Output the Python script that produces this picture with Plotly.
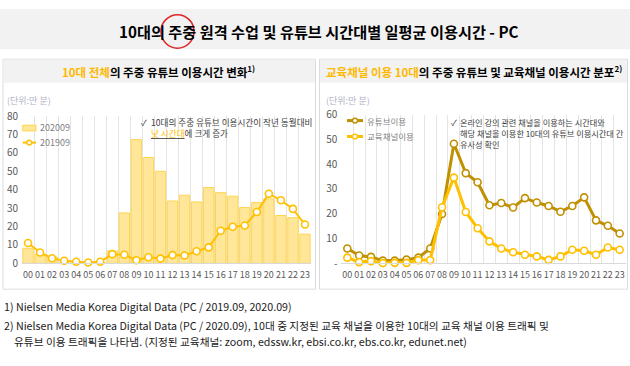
import plotly.graph_objects as go

# ---------------- data ----------------
hours = [f"{h:02d}" for h in range(24)]
teen_2020 = [8.2, 4.8, 3.5, 0.3, 0.2, 0.2, 0.3, 6.7, 27.4, 67.2, 57.5, 50.0,
             33.9, 37.0, 33.4, 41.2, 38.4, 36.5, 30.3, 33.1, 35.0, 26.0, 24.8, 15.9]
teen_2019 = [11.1, 5.9, 2.8, 1.4, 0.9, 0.5, 0.9, 5.0, 4.7, 1.7, 3.3, 2.6,
             4.5, 4.3, 6.6, 8.7, 17.7, 19.9, 20.6, 27.9, 37.8, 34.3, 29.6, 21.1]
youtube_use = [5.9, 3.1, 2.5, 1.0, 1.0, 1.4, 2.2, 5.9, 19.9, 48.3, 36.4, 32.7,
               23.4, 24.3, 22.5, 26.3, 24.5, 23.1, 20.8, 23.1, 26.6, 17.3, 15.1, 12.0]
edu_use = [2.2, 0.4, 0.8, 0.0, 0.1, 0.1, 1.2, 1.2, 22.6, 34.6, 20.7, 14.1,
           8.8, 5.9, 4.4, 3.4, 2.7, 1.3, 2.7, 5.4, 5.0, 3.4, 6.3, 5.4]
left_ticks = [0, 10, 20, 30, 40, 50, 60, 70, 80]
right_ticks = [0, 10, 20, 30, 40, 50, 60]
right_ticktext = ["-", "10", "20", "30", "40", "50", "60"]
series_names = ["202009", "201909", "유튜브이용", "교육채널이용"]

# ---------------- helpers ----------------
W, H = 630, 366
FONT = "Noto Sans CJK KR"


def X(px):
    return px / W


def Y(py):
    return 1 - py / H


YEL = "#FFC000"
GOLD = "#BF9000"
BAR_FILL = "#FFE699"
BAR_LINE = "#FFD54F"
TICK = "#595959"
GRID = "#e4e4e4"

fig = go.Figure()

fig.add_trace(go.Bar(x=hours, y=teen_2020, name=series_names[0],
                     marker=dict(color=BAR_FILL, line=dict(color=BAR_LINE, width=1)),
                     xaxis="x", yaxis="y", showlegend=False))
fig.add_trace(go.Scatter(x=hours, y=teen_2019, name=series_names[1], mode="lines+markers",
                         line=dict(color=YEL, width=2),
                         marker=dict(symbol="circle", size=7, color="white",
                                     line=dict(color=YEL, width=1.6)),
                         cliponaxis=False, xaxis="x", yaxis="y", showlegend=False))
fig.add_trace(go.Scatter(x=hours, y=youtube_use, name=series_names[2], mode="lines+markers",
                         line=dict(color=GOLD, width=3),
                         marker=dict(symbol="circle", size=7, color="white",
                                     line=dict(color=GOLD, width=1.6)),
                         cliponaxis=False, xaxis="x2", yaxis="y2", showlegend=False))
fig.add_trace(go.Scatter(x=hours, y=edu_use, name=series_names[3], mode="lines+markers",
                         line=dict(color=YEL, width=3),
                         marker=dict(symbol="circle", size=7, color="white",
                                     line=dict(color=YEL, width=1.6)),
                         cliponaxis=False, xaxis="x2", yaxis="y2", showlegend=False))

xcommon = dict(type="category", range=[-0.5, 23.5], showgrid=True, gridcolor=GRID,
               gridwidth=1, tickson="boundaries", ticks="", showline=True,
               linecolor="#d9d9d9", linewidth=1, zeroline=False,
               tickfont=dict(family=FONT, size=9, color=TICK), ticklabelstandoff=3,
               tickangle=0, fixedrange=True)
ycommon = dict(showgrid=False, zeroline=False, showline=False, ticks="",
               tickfont=dict(family=FONT, size=10, color=TICK), ticklabelstandoff=3,
               fixedrange=True)

shapes = [
    # title band
    dict(type="rect", xref="paper", yref="paper", x0=0, x1=1, y0=Y(42), y1=1,
         fillcolor="#f2f2f2", line=dict(width=0), layer="below"),
    # panels
    dict(type="rect", xref="paper", yref="paper", x0=X(3), x1=X(315.5), y0=Y(293), y1=Y(52.5),
         fillcolor="white", line=dict(color="#dcdcdc", width=1), layer="below"),
    dict(type="rect", xref="paper", yref="paper", x0=X(319.5), x1=X(627.5), y0=Y(293), y1=Y(52.5),
         fillcolor="white", line=dict(color="#dcdcdc", width=1), layer="below"),
    # panel header bands
    dict(type="rect", xref="paper", yref="paper", x0=X(3.5), x1=X(315), y0=Y(77), y1=Y(53),
         fillcolor="#f2f2f2", line=dict(width=0), layer="below"),
    dict(type="rect", xref="paper", yref="paper", x0=X(320), x1=X(627), y0=Y(77), y1=Y(53),
         fillcolor="#f2f2f2", line=dict(width=0), layer="below"),
    # red circle around 주중
    dict(type="circle", xref="paper", yref="paper", x0=X(161), x1=X(194), y0=Y(41), y1=Y(6),
         line=dict(color="#e02424", width=1.5)),
    # left legend swatches
    dict(type="rect", xref="paper", yref="paper", x0=X(22.7), x1=X(36), y0=Y(127.5), y1=Y(121.5),
         fillcolor=BAR_FILL, line=dict(color=BAR_LINE, width=1)),
    dict(type="line", xref="paper", yref="paper", x0=X(22.7), x1=X(36), y0=Y(139.7), y1=Y(139.7),
         line=dict(color=YEL, width=2)),
    dict(type="circle", xref="paper", yref="paper", x0=X(26.8), x1=X(31.8), y0=Y(142.2), y1=Y(137.2),
         fillcolor="white", line=dict(color=YEL, width=1.4)),
    # right legend swatches
    dict(type="line", xref="paper", yref="paper", x0=X(347), x1=X(363), y0=Y(116.7), y1=Y(116.7),
         line=dict(color=GOLD, width=3)),
    dict(type="circle", xref="paper", yref="paper", x0=X(352.5), x1=X(357.5), y0=Y(119.2), y1=Y(114.2),
         fillcolor="white", line=dict(color=GOLD, width=1.4)),
    dict(type="line", xref="paper", yref="paper", x0=X(347), x1=X(363), y0=Y(133.3), y1=Y(133.3),
         line=dict(color=YEL, width=3)),
    dict(type="circle", xref="paper", yref="paper", x0=X(352.5), x1=X(357.5), y0=Y(135.8), y1=Y(130.8),
         fillcolor="white", line=dict(color=YEL, width=1.4)),
]


def ann(text, x, y, size, color="#000000", xanchor="left", yanchor="middle"):
    return dict(text=text, x=X(x), y=Y(y), xref="paper", yref="paper", showarrow=False,
                xanchor=xanchor, yanchor=yanchor, align="left",
                font=dict(family=FONT, size=size, color=color))


ORANGE = "#FFB800"
TXT = "#404040"
UNIT = "#b3b3c9"
annotations = [
    ann("<b>10대의 주중 원격 수업 및 유튜브 시간대별 일평균 이용시간 - PC</b>", 318.5, 23, 15.2,
        xanchor="center"),
    ann(f"<b><span style='color:{ORANGE}'>10대 전체</span>의 주중 유튜브 이용시간 변화<sup>1)</sup></b>",
        158.5, 65.5, 11.5, xanchor="center"),
    ann(f"<b><span style='color:{ORANGE}'>교육채널 이용 10대</span>의 주중 유튜브 및 교육채널 이용시간 분포<sup>2)</sup></b>",
        474, 65.5, 11.5, xanchor="center"),
    ann("(단위:만 분)", 5, 95.7, 9, UNIT),
    ann("(단위:만 분)", 324.5, 95.7, 9, UNIT),
    # left legend text
    ann(series_names[0], 37.5, 124.3, 9, "#7f7f7f"),
    ann(series_names[1], 37.5, 139.7, 9, "#7f7f7f"),
    # right legend text
    ann(series_names[2], 364.5, 116.7, 8.5, "#7f7f7f"),
    ann(series_names[3], 364.5, 133.3, 8.5, "#7f7f7f"),
    # left note
    ann("✓", 139, 117.7, 8.5, TXT),
    ann("10대의 주중 유튜브 이용시간이 작년 동월대비", 148.5, 117.7, 8.6, TXT),
    ann(f"<u><span style='color:{YEL}'>낮 시간대</span></u>에 크게 증가", 148.5, 130, 8.6, TXT),
    # right note
    ann("✓", 449, 117.7, 8.5, TXT),
    ann("온라인 강의 관련 채널을 이용하는 시간대와", 458, 117.7, 8.2, TXT),
    ann("해당 채널을 이용한 10대의 유튜브 이용시간대 간", 458, 129.5, 8.2, TXT),
    ann("유사성 확인", 458, 141, 8.2, TXT),
    # footnotes
    ann("1) Nielsen Media Korea Digital Data (PC / 2019.09, 2020.09)", 2, 311, 10.7, "#1a1a1a"),
    ann("2) Nielsen Media Korea Digital Data (PC / 2020.09), 10대 중 지정된 교육 채널을 이용한 10대의 교육 채널 이용 트래픽 및",
        2, 331, 10.7, "#1a1a1a"),
    ann("유튜브 이용 트래픽을 나타냄. (지정된 교육채널: zoom, edssw.kr, ebsi.co.kr, ebs.co.kr, edunet.net)",
        12, 348, 10.7, "#1a1a1a"),
]

fig.update_layout(
    width=W, height=H, margin=dict(l=0, r=0, t=0, b=0),
    paper_bgcolor="white", plot_bgcolor="rgba(0,0,0,0)",
    font=dict(family=FONT, color=TICK),
    bargap=0.14, showlegend=False,
    xaxis=dict(domain=[X(22), X(311)], anchor="y", **xcommon),
    yaxis=dict(domain=[Y(266), Y(112)], anchor="x", range=[0, 80], tickvals=left_ticks,
               **ycommon),
    xaxis2=dict(domain=[X(341.4), X(625.6)], anchor="y2", **xcommon),
    yaxis2=dict(domain=[Y(265.7), Y(110.7)], anchor="x2", range=[0, 60], tickvals=right_ticks,
                ticktext=right_ticktext, **ycommon),
    shapes=shapes, annotations=annotations,
)

fig.write_html("out.html", config={"displayModeBar": False},
               post_script="document.body.style.margin='0';")
